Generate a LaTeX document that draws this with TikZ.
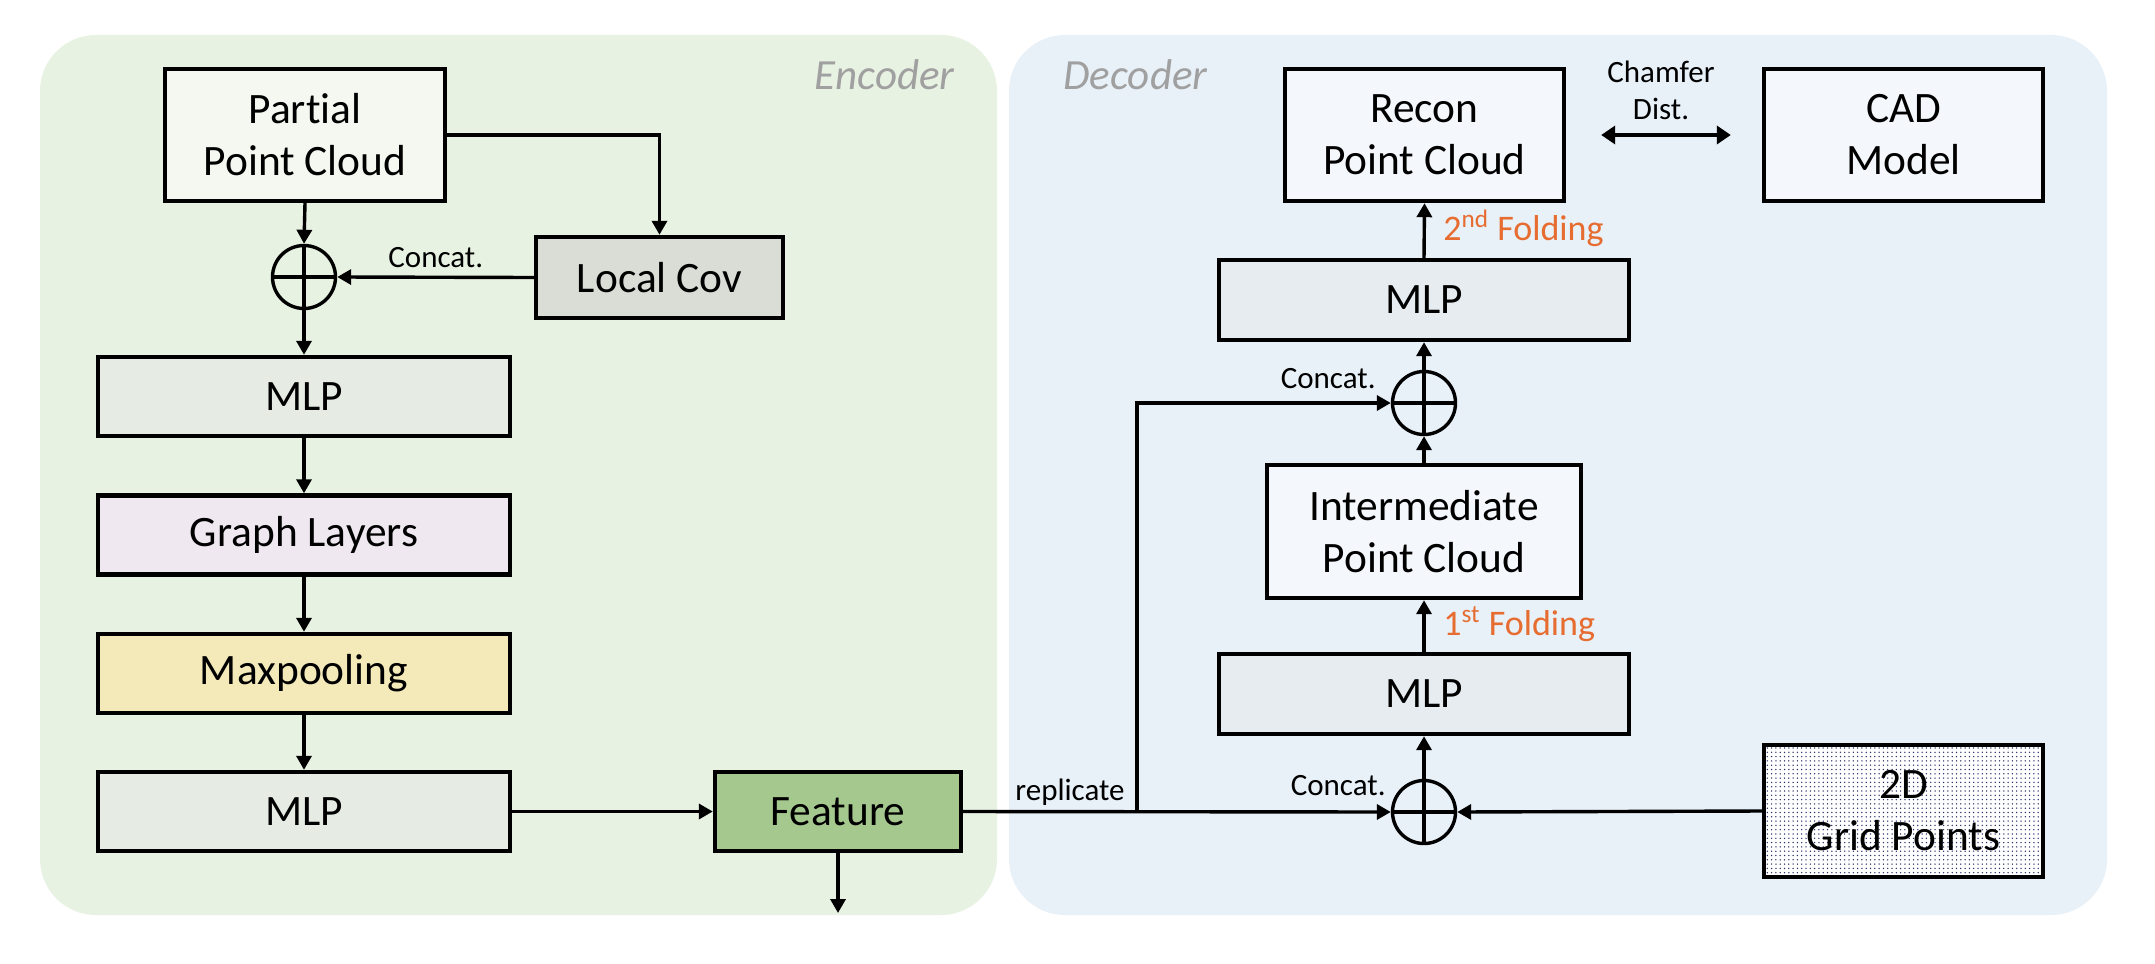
\documentclass[tikz,border=0pt]{standalone}
\usepackage{fontspec}
\setmainfont{Carlito}[Ligatures=NoCommon]
\usetikzlibrary{arrows.meta,patterns.meta}
\definecolor{encbg}{RGB}{232,242,226}
\definecolor{decbg}{RGB}{232,240,248}
\definecolor{ppcfill}{RGB}{244,248,241}
\definecolor{lcfill}{RGB}{218,221,214}
\definecolor{mlpenc}{RGB}{230,235,228}
\definecolor{graphfill}{RGB}{239,232,240}
\definecolor{maxfill}{RGB}{243,233,185}
\definecolor{featfill}{RGB}{165,200,142}
\definecolor{pcfill}{RGB}{244,248,252}
\definecolor{mlpdec}{RGB}{231,236,240}
\definecolor{foldc}{RGB}{230,108,48}
\definecolor{titlec}{RGB}{160,160,160}
\definecolor{dotc}{RGB}{35,45,105}
\begin{document}
\begin{tikzpicture}[x=0.5pt,y=-0.5pt,
  box/.style={draw, line width=2.2pt, inner sep=0pt, align=center,
    font=\fontsize{21.7}{26}\selectfont},
  plus/.style={draw, circle, line width=1.7pt, minimum size=31.5pt, inner sep=0pt},
  arr/.style={-{Triangle[length=7pt,width=7.5pt]}, line width=1.7pt},
  plain/.style={line width=1.7pt},
  small/.style={font=\fontsize{15.5}{18.5}\selectfont, inner sep=0pt},
  fold/.style={font=\fontsize{18}{21}\selectfont, text=foldc, inner sep=0pt},
  title/.style={font=\fontsize{21.5}{26}\selectfont\itshape, text=titlec, inner sep=0pt}]
\fill[white] (0,0) rectangle (2155,963);
\useasboundingbox (0,0) rectangle (2155,963);
% backgrounds
\fill[encbg, rounded corners=28pt] (40,35) rectangle (997,915);
\fill[decbg, rounded corners=28pt] (1009,35) rectangle (2107,915);
\node[title, anchor=base east] (enct) at (955,90) {Encoder};
\node[title, anchor=base west] (dect) at (1063,90) {Decoder};
% encoder nodes
\node[box, fill=ppcfill, minimum width=140pt, minimum height=66pt] (ppc) at (305,135) {Partial\\Point Cloud};
\node[box, fill=lcfill, minimum width=123.5pt, minimum height=40.5pt] (lc) at (659.5,277.5) {Local Cov};
\node[plus] (p1) at (304,277) {};
\node[box, fill=mlpenc, minimum width=206pt, minimum height=39.5pt] (mlp1) at (304,396.5) {MLP};
\node[box, fill=graphfill, minimum width=206pt, minimum height=39.5pt] (gl) at (304,535) {Graph Layers};
\node[box, fill=maxfill, minimum width=206pt, minimum height=39.5pt] (mp) at (304,673.5) {Maxpooling};
\node[box, fill=mlpenc, minimum width=206pt, minimum height=39.5pt] (mlp2) at (304,811.5) {MLP};
\node[box, fill=featfill, minimum width=123pt, minimum height=39.5pt] (feat) at (838,811.5) {Feature};
\coordinate (fout) at (838,913);
% decoder nodes
\node[box, fill=pcfill, minimum width=139.5pt, minimum height=66pt] (recon) at (1424.5,135) {Recon\\Point Cloud};
\node[box, fill=pcfill, minimum width=139.5pt, minimum height=66pt] (cad) at (1903.5,135) {CAD\\Model};
\node[box, fill=mlpdec, minimum width=205pt, minimum height=40pt] (mlp4) at (1424,300) {MLP};
\node[plus] (p2) at (1424,403) {};
\node[box, fill=pcfill, minimum width=157pt, minimum height=66.5pt] (inter) at (1424,531.5) {Intermediate\\Point Cloud};
\node[box, fill=mlpdec, minimum width=205pt, minimum height=40pt] (mlp3) at (1424,694) {MLP};
\node[plus] (p3) at (1424,812) {};
\node[box, preaction={fill=white}, pattern={Dots[distance=2.15pt, radius=0.38pt]}, pattern color=dotc,
  minimum width=139.5pt, minimum height=66pt] (grid) at (1903.5,811) {};
\node[box, draw=none] (gridt) at (grid.center) {2D\\Grid Points};
\coordinate (split) at (1137,812);
% plus crosses
\foreach \p in {p1,p2,p3} {
  \draw[plain] (\p.north) -- (\p.south) (\p.west) -- (\p.east);
}
% encoder connectors
\draw[arr] (ppc.south) -- (p1.north);
\draw[arr] (ppc.east) -| (lc.north);
\draw[arr] (lc.west) -- (p1.east);
\node[small, anchor=base west] (cc1) at (388,267) {Concat.};
\draw[arr] (p1.south) -- (mlp1.north);
\draw[arr] (mlp1.south) -- (gl.north);
\draw[arr] (gl.south) -- (mp.north);
\draw[arr] (mp.south) -- (mlp2.north);
\draw[arr] (mlp2.east) -- (feat.west);
\draw[arr] (feat.south) -- (fout);
% decoder connectors
\draw[arr] (feat.east) -- (p3.west);
\node[small, anchor=base west] (rep) at (1015,800) {replicate};
\draw[arr] (split) |- (p2.west);
\draw[arr] (grid.west) -- (p3.east);
\node[small, anchor=base east] (cc3) at (1386,795) {Concat.};
\node[small, anchor=base east] (cc2) at (1376,388) {Concat.};
\draw[arr] (p3.north) -- (mlp3.south);
\draw[arr] (mlp3.north) -- (inter.south);
\node[fold, anchor=base west] (f1) at (1443,635) {1\textsuperscript{st} Folding};
\draw[arr] (inter.north) -- (p2.south);
\draw[arr] (p2.north) -- (mlp4.south);
\draw[arr] (mlp4.north) -- (recon.south);
\node[fold, anchor=base west] (f2) at (1443,240) {2\textsuperscript{nd} Folding};
\draw[{Triangle[length=7pt,width=9pt]}-{Triangle[length=7pt,width=9pt]}, line width=1.9pt,
  shorten <=17.5pt, shorten >=15.5pt] (recon.east) -- (cad.west);
\node[small, align=center] (cd) at (1661,90) {Chamfer\\Dist.};
\end{tikzpicture}
\end{document}
